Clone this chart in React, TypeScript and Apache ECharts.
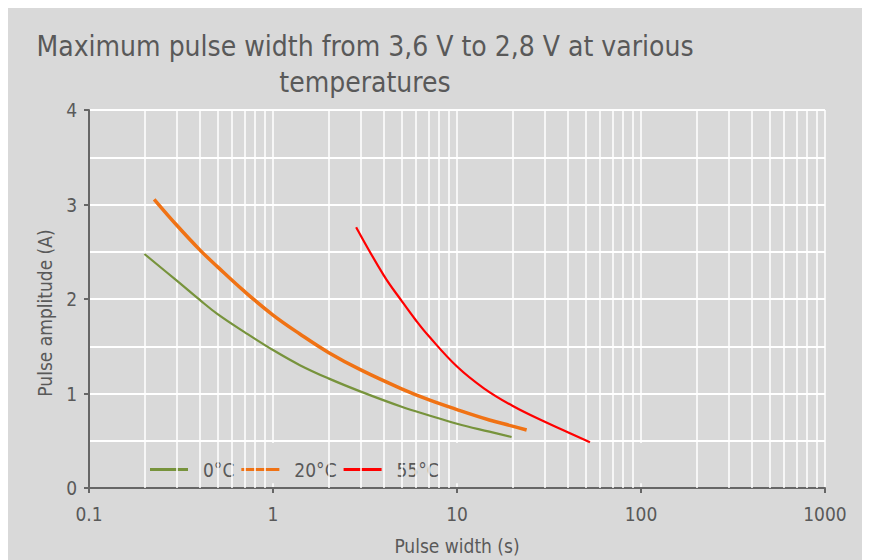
import React, { useEffect, useRef } from "react";
import * as echarts from "echarts";

const titleText = "Maximum pulse width from 3,6 V to 2,8 V at various\ntemperatures";
const xName = "Pulse width (s)";
const yName = "Pulse amplitude (A)";

const seriesNames = ["0°C", "20°C", "55°C"];
const seriesColors = ["#77933c", "#f07214", "#ff0000"];

const x0C = [0.2, 0.3, 0.4, 0.5, 0.7, 1, 1.4, 2, 3, 5, 7, 10, 15, 19.8];
const y0C = [2.476, 2.194, 1.99, 1.84, 1.65, 1.46, 1.3, 1.16, 1.02, 0.86, 0.77, 0.68, 0.596, 0.54];

const x20C = [0.226, 0.3, 0.4, 0.5, 0.7, 1, 1.4, 2, 3, 5, 7, 10, 15, 20, 23.9];
const y20C = [3.055, 2.78, 2.52, 2.34, 2.08, 1.83, 1.63, 1.435, 1.25, 1.05, 0.935, 0.83, 0.72, 0.655, 0.614];

const x55C = [2.83, 4, 5, 6, 7, 10, 14, 20, 30, 40, 52.8];
const y55C = [2.76, 2.25, 1.98, 1.77, 1.61, 1.285, 1.055, 0.87, 0.7, 0.59, 0.483];

const decades = [0.1, 1, 10, 100];
const minorMultipliers = [2, 3, 4, 5, 6, 7, 8, 9];

const FONT = "'Liberation Sans Narrow', 'DejaVu Sans Condensed', sans-serif";
const TEXT_COLOR = "#595959";
const AXIS_COLOR = "#666666";

export default function App() {
  const ref = useRef<HTMLDivElement>(null);
  useEffect(() => {
    if (!ref.current) return;
    const chart = echarts.init(ref.current, undefined, { renderer: "svg" });
    const pairs = (xs: number[], ys: number[]) => xs.map((x, i) => [x, ys[i]]);
    const minorX: number[] = [];
    decades.forEach((d) => minorMultipliers.forEach((m) => minorX.push(+(d * m).toPrecision(3))));

    chart.setOption({
      animation: false,
      backgroundColor: "#d9d9d9",
      textStyle: { fontFamily: FONT },
      graphic: [
        {
          type: "text",
          x: 357,
          y: 20,
          style: {
            text: titleText,
            textAlign: "center",
            textVerticalAlign: "top",
            fontFamily: FONT,
            fontSize: 28,
            lineHeight: 36,
            fill: TEXT_COLOR,
          },
        },
      ],
      grid: { left: 81, right: 40, top: 102, bottom: 72 },
      legend: {
        left: 137,
        top: 447,
        itemWidth: 38,
        itemHeight: 3,
        itemGap: 7,
        icon: "rect",
        data: seriesNames,
        textStyle: { fontFamily: FONT, fontSize: 19, color: TEXT_COLOR, padding: [0, 0, 0, 10] },
      },
      xAxis: {
        type: "log",
        logBase: 10,
        min: 0.1,
        max: 1000,
        name: xName,
        nameLocation: "middle",
        nameGap: 48,
        nameTextStyle: { fontFamily: FONT, fontSize: 19, color: TEXT_COLOR },
        axisLine: { show: true, onZero: false, lineStyle: { color: AXIS_COLOR, width: 2 } },
        axisTick: { show: true, length: 5, lineStyle: { color: AXIS_COLOR, width: 2 } },
        axisLabel: {
          fontFamily: FONT,
          fontSize: 19,
          color: TEXT_COLOR,
          margin: 16,
          formatter: (v: number) => String(v),
        },
        splitLine: { show: true, lineStyle: { color: "#ffffff", width: 1.5 } },
      },
      yAxis: {
        type: "value",
        min: 0,
        max: 4,
        interval: 1,
        name: yName,
        nameLocation: "middle",
        nameGap: 35,
        nameTextStyle: { fontFamily: FONT, fontSize: 19, color: TEXT_COLOR, padding: [0, 28, 0, 0] },
        axisLine: { show: true, lineStyle: { color: AXIS_COLOR, width: 2 } },
        axisTick: { show: true, length: 5, lineStyle: { color: AXIS_COLOR, width: 2 } },
        axisLabel: { fontFamily: FONT, fontSize: 19, color: TEXT_COLOR, margin: 12 },
        splitLine: { show: true, lineStyle: { color: "#ffffff", width: 2 } },
        minorTick: { show: false, splitNumber: 2 },
        minorSplitLine: { show: true, lineStyle: { color: "#ffffff", width: 2 } },
      },
      series: [
        {
          type: "line",
          name: "minor-grid",
          data: [],
          z: 1,
          silent: true,
          markLine: {
            silent: true,
            symbol: ["none", "none"],
            label: { show: false },
            lineStyle: { color: "#ffffff", width: 1.5, type: "solid" },
            data: minorX.map((v) => ({ xAxis: v })),
          },
        },
        {
          type: "line",
          name: "legend-strip",
          data: [],
          z: 2,
          silent: true,
          markArea: {
            silent: true,
            itemStyle: { color: "#d9d9d9" },
            data: [[{ coord: [0.102, 0.05] }, { coord: [985, 0.475] }]],
          },
        },
        {
          type: "line",
          name: seriesNames[0],
          data: pairs(x0C, y0C),
          smooth: 0.4,
          symbol: "none",
          z: 5,
          color: seriesColors[0],
          lineStyle: { color: seriesColors[0], width: 2.2 },
        },
        {
          type: "line",
          name: seriesNames[1],
          data: pairs(x20C, y20C),
          smooth: 0.4,
          symbol: "none",
          z: 5,
          color: seriesColors[1],
          lineStyle: { color: seriesColors[1], width: 3.5 },
        },
        {
          type: "line",
          name: seriesNames[2],
          data: pairs(x55C, y55C),
          smooth: 0.4,
          symbol: "none",
          z: 5,
          color: seriesColors[2],
          lineStyle: { color: seriesColors[2], width: 2.2 },
        },
      ],
    });
    return () => chart.dispose();
  }, []);
  return <div ref={ref} style={{ width: 857, height: 552 }} />;
}
